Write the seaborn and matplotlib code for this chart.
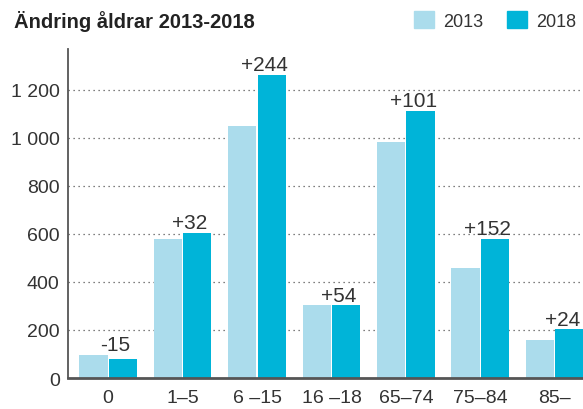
import numpy as np
import pandas as pd
import seaborn as sns
import matplotlib.pyplot as plt
from matplotlib.patches import Patch
from matplotlib.ticker import FuncFormatter

# data
aldrar = ["0", "1–5", "6 –15", "16 –18", "65–74", "75–84", "85–"]
ar_2013 = [97, 579, 1049, 302, 983, 459, 159]
ar_2018 = [80, 604, 1262, 302, 1113, 579, 202]
andring = ["-15", "+32", "+244", "+54", "+101", "+152", "+24"]

df = pd.DataFrame({
    "aldrar": aldrar * 2,
    "antal": ar_2013 + ar_2018,
    "ar": ["2013"] * len(aldrar) + ["2018"] * len(aldrar),
})

ljus = "#abdcec"
mork = "#00b4d8"
text_farg = "#333333"

sns.set_theme(style="white")
plt.rcParams["font.family"] = ["Liberation Sans", "DejaVu Sans"]

fig = plt.figure(figsize=(5.83, 4.10), dpi=100)
ax = fig.add_axes([0.1166, 0.0756, 0.8834, 0.8024])

sns.barplot(data=df, x="aldrar", y="antal", hue="ar", palette=[ljus, mork],
            saturation=1, width=0.79, gap=0.04, linewidth=0, ax=ax,
            legend=False, zorder=3)

# rutnät
ax.set_ylim(0, 1370)
ax.set_xlim(-0.54, 6.38)
ax.set_yticks(range(0, 1201, 200))
ax.yaxis.set_major_formatter(FuncFormatter(lambda v, p: f"{int(v):,}".replace(",", " ")))
for y in range(200, 1201, 200):
    ax.axhline(y, color="#555555", linestyle=(0, (1, 3)), linewidth=0.9, zorder=1)

# förändringsetiketter
for i, txt in enumerate(andring):
    topp = max(ar_2013[i], ar_2018[i])
    ax.text(i + 0.1, topp + 4, txt, ha="center", va="bottom", fontsize=15,
            color=text_farg, zorder=4)

for s in ["top", "right"]:
    ax.spines[s].set_visible(False)
ax.spines["left"].set_color("#555555")
ax.spines["left"].set_linewidth(1.3)
ax.spines["bottom"].set_color("#555555")
ax.spines["bottom"].set_linewidth(2)
ax.spines["bottom"].set_zorder(5)

ax.set_xlabel("")
ax.set_ylabel("")
ax.tick_params(axis="both", length=0, labelsize=14, colors=text_farg)
ax.tick_params(axis="x", pad=8)
ax.tick_params(axis="y", pad=6)

fig.text(0.024, 0.948, "Ändring åldrar 2013-2018", fontsize=14.5, fontweight="bold",
         color="#222222", va="center")

handles = [Patch(color=ljus, label="2013"), Patch(color=mork, label="2018")]
fig.legend(handles=handles, loc="center right", bbox_to_anchor=(1.0, 0.948), ncol=2,
           frameon=False, fontsize=13, handlelength=1.1, handleheight=1.1,
           handletextpad=0.5, columnspacing=1.3, borderaxespad=0.0,
           labelcolor=text_farg)

fig.savefig("out.png", dpi=100)
